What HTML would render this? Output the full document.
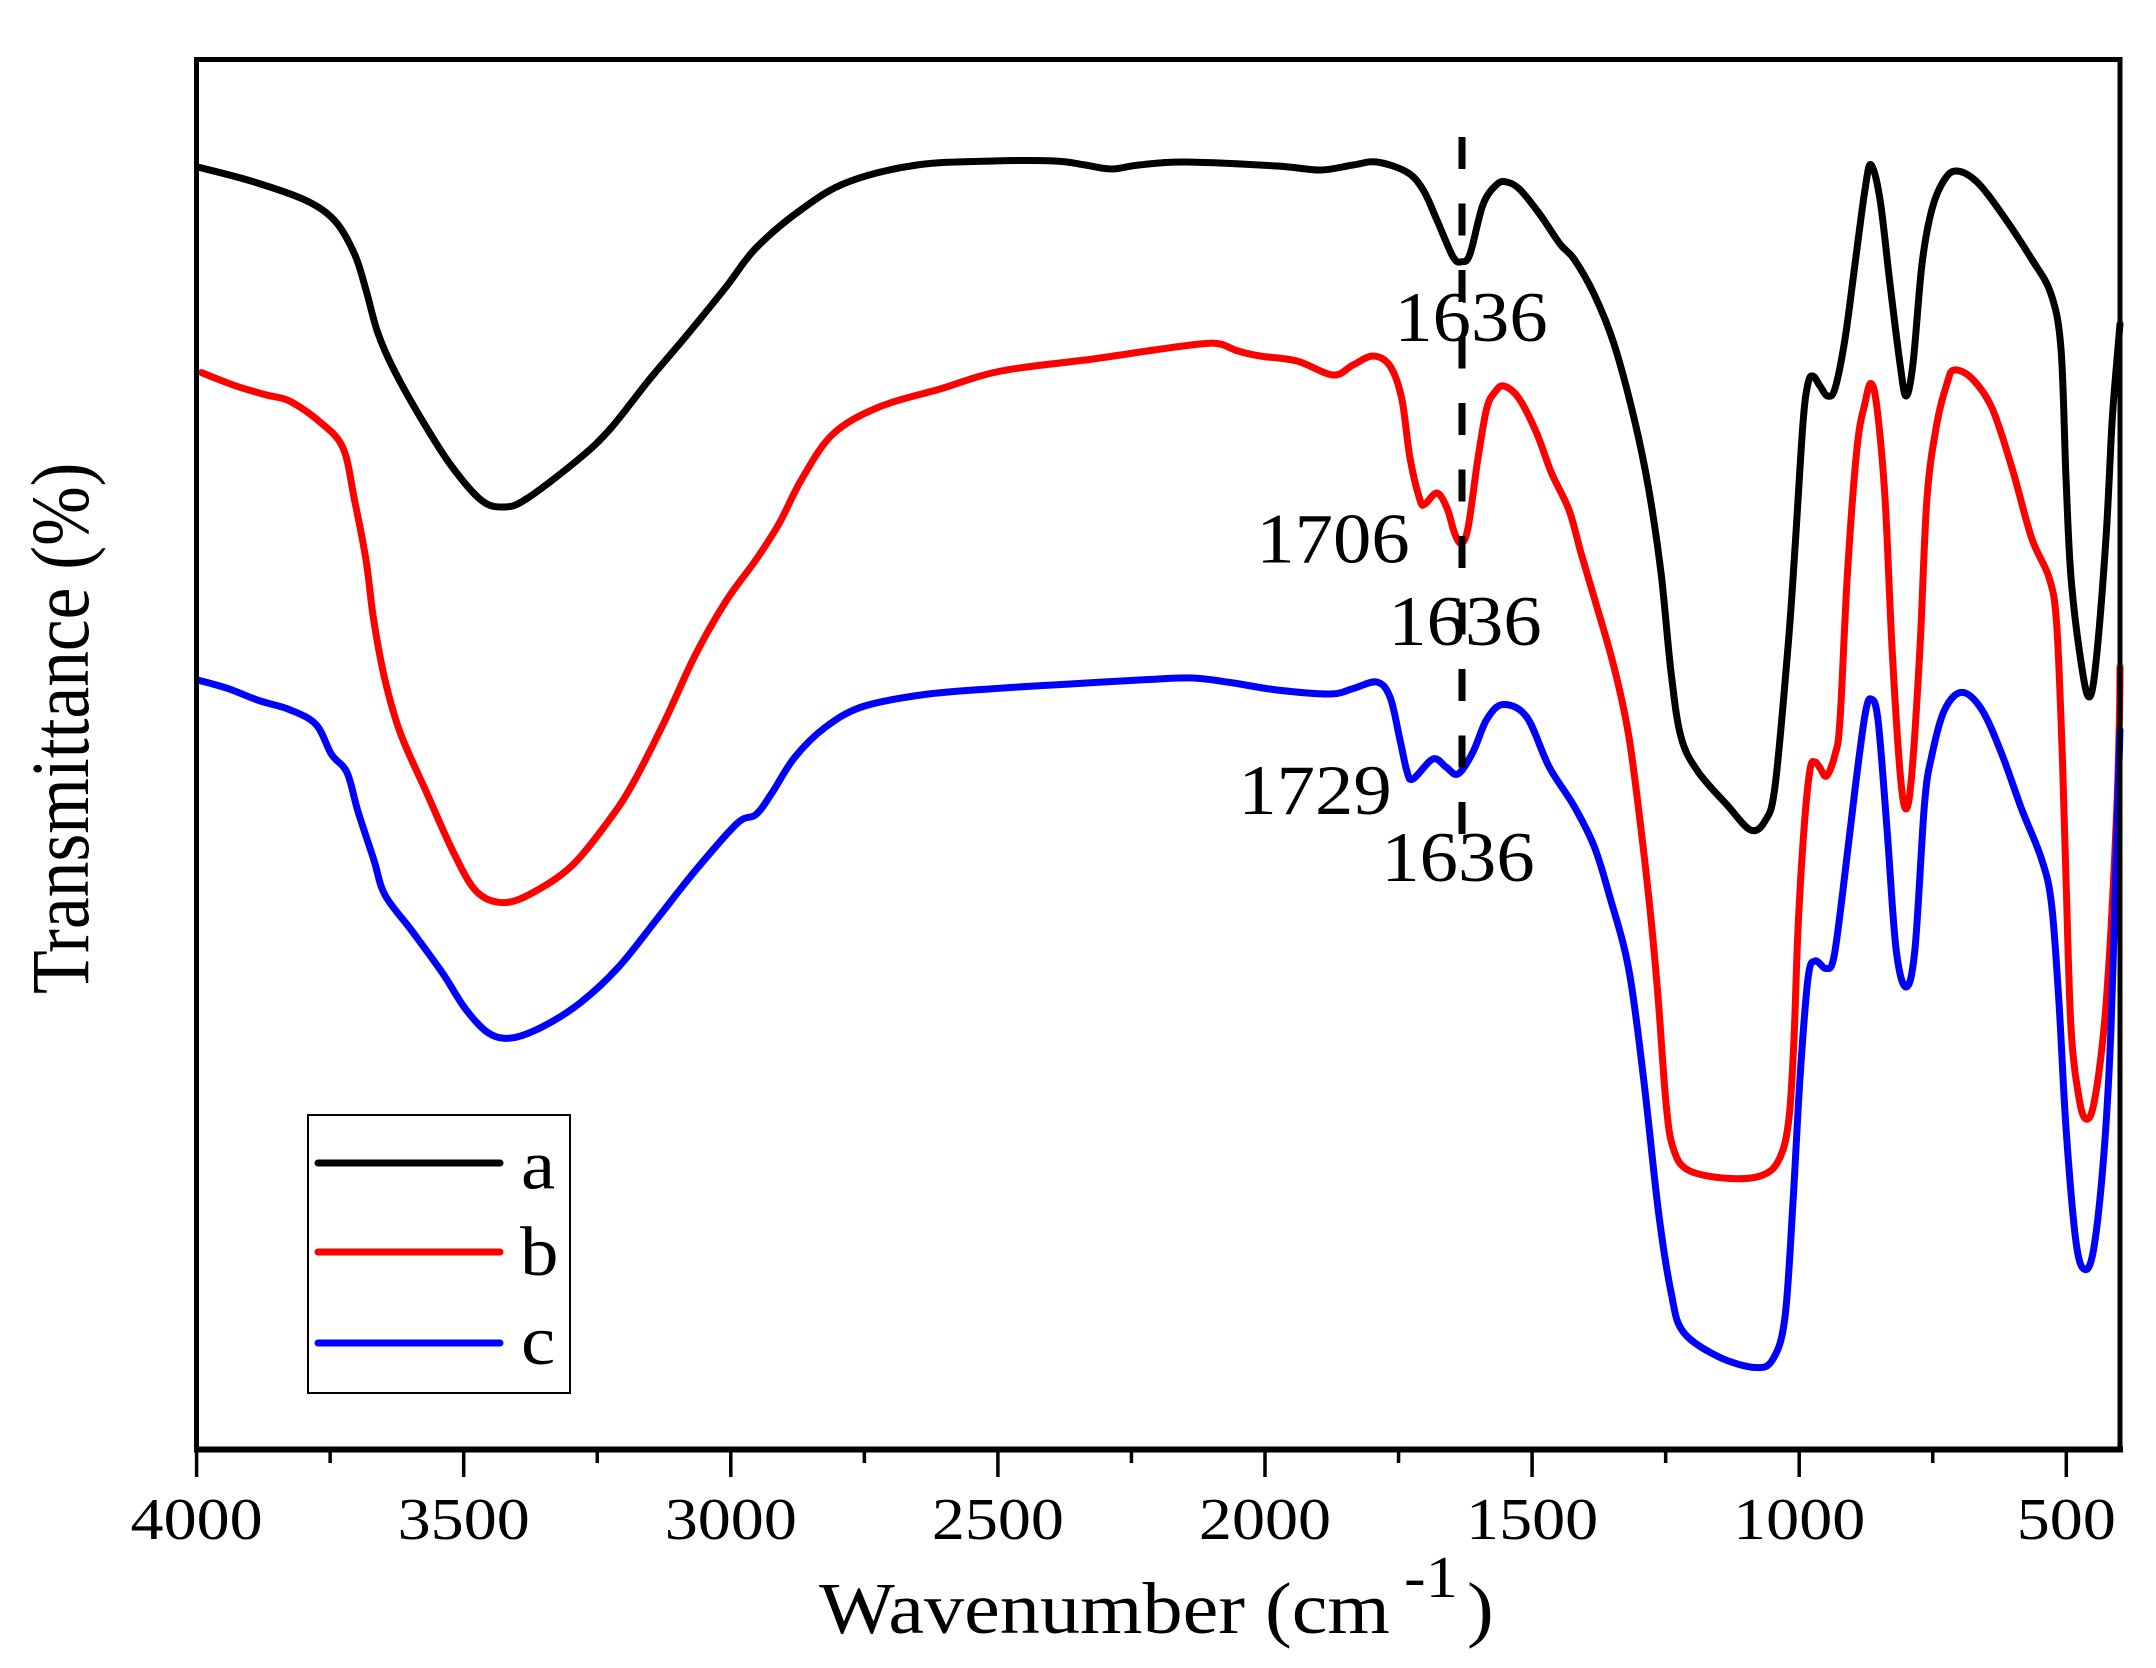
<!DOCTYPE html>
<html>
<head>
<meta charset="utf-8">
<style>
html,body{margin:0;padding:0;background:#fff;}
svg{display:block;}
text{font-family:"Liberation Serif","Times New Roman",serif;fill:#000;}
</style>
</head>
<body>
<svg id="chart" width="2156" height="1668" viewBox="0 0 2156 1668" xmlns="http://www.w3.org/2000/svg">
<rect x="0" y="0" width="2156" height="1668" fill="#fff"/>

<!-- curves -->
<g id="curves" fill="none" stroke-width="7" stroke-linejoin="round" stroke-linecap="round">
<polyline stroke="#000" points="197.7,167 251,181 305,200 335,221 354.5,254 366,290 377.5,332 393,368 419.6,416 450,464 481,500 504,507 527,498.5 580,458 611,428 649,380 687,335 726,287 756,248 802,209 848,182 917,165 993.6,161 1055,161 1085,165 1112,169 1139,165 1185,162 1277,166 1320,170 1353,165 1376.7,162 1406.7,172 1423,189.6 1436.7,219.5 1453,256.8 1461.7,261.7 1470,254 1483,204.5 1496.7,184.6 1506.7,182 1520,189.6 1540,214.5 1560,244 1574,259 1594,294 1614,344 1634,418 1648.5,488 1661,572.6 1671,672 1681,737 1698,771.6 1728,806 1750.5,830 1765,821 1775,786.5 1788,647 1795,548 1803,423 1808,383.5 1813,376 1820,386 1827.6,396 1835,388.5 1845,339 1855,264 1865,189.5 1871,164.7 1880,199.5 1890,284 1900,363.6 1906,396 1913,363.6 1922,264 1932,209 1944.5,179.6 1957,171 1977,182 2002,214 2031.6,259 2051,294 2061,349 2066,478 2071,577.5 2081,662 2089,697 2096,662 2106,538 2112,423 2117,359 2120,324"/>
<polyline stroke="#ff0000" points="201.5,372.6 236,386 266.5,395 289.5,401 320,422 343,448 354.5,500 366,560 373.7,620 385,680 400.5,733.5 427,793.5 454,853.5 477,892 504,902.6 534,892 572.6,865 611,817.5 634,781.5 664.5,721.5 695,655.6 725.7,601.6 756,559.7 779,523.7 802,478.7 833,434 879,407 940,389 1001,371 1093,359 1154,350 1200,344 1220,344 1238,351 1260,356 1297,361 1333,375 1353,365 1373,356 1390,366 1401.7,398.5 1410,458 1420,500 1425,504 1437,493 1447,508 1454.5,533 1461,543 1468,528 1478,458 1486.7,408.5 1495,392 1504,386 1519,398.5 1536.6,433 1551.5,473 1569,510 1581,553 1594,597 1614,667 1628.6,735 1641,829 1651,919 1658.5,1003 1666,1103 1673,1147.6 1688,1170 1728,1178.4 1763,1175 1780,1157.5 1789,1118 1794,1038 1798,929 1804,829 1810,769.5 1815,762 1820,768 1826.6,776 1835,754.6 1840,720 1847.5,572.6 1857,448 1865,403 1871,383.5 1877,408 1885,498 1892,647 1900,771.5 1906,809 1912,771.5 1920,647 1927,498 1937,423 1947,383.5 1954,370 1972,378.6 1992,408 2012,468 2031.6,538 2049,577.5 2056.5,622 2062,747 2066,879 2071,1028 2079,1098 2086,1119 2094,1103 2104,1028 2111,929 2117,804 2119.6,710 2120,667"/>
<polyline stroke="#0000ff" points="197.7,680 228,688.6 259,700.6 289.5,709.6 316,724.5 331.6,754.5 347,772.5 358,811.5 373.7,859.4 385,895 412,931 442.5,973 465.5,1009 488.5,1033 511.4,1038 542,1027 580,1003 618.6,967 657,919 695,871 737,823.5 756,814.5 771.6,793.5 794.6,757.5 825,727.5 863,706.5 924.7,694.5 993.6,688.6 1070,684 1146.6,679.6 1192.5,678 1231,682.6 1277,690 1330,694 1353,688.6 1376.7,682 1390,697 1400,740 1407,771.5 1413,779 1433,759 1446,767 1458,774 1473,752 1486.7,719.5 1503,704.5 1526.7,717 1549,766.6 1574,806 1594,846 1609,894 1628.6,968.5 1643.5,1078 1658.5,1212 1671,1292 1683,1331.6 1718,1356.5 1755.5,1367.5 1773,1359 1785,1317 1793,1202 1800,1078 1808,978.5 1815,961 1826,968.5 1833.6,958.6 1842.5,894 1855,789.4 1865,715 1871,699 1878,720 1887,829 1896,948.6 1906,987 1915,948.6 1924.5,804 1932,754.6 1944.5,710 1962,692.4 1982,710 2002,754.6 2021.6,809 2041.5,859 2051.5,904 2059,1003 2066,1128 2076,1242 2085,1269.5 2094,1247 2104,1152.6 2111,1028 2117,829 2120,730"/>
</g>

<!-- dashed line -->
<line x1="1462" y1="137" x2="1462" y2="834" stroke="#000" stroke-width="7" stroke-dasharray="32 34.5"/>

<!-- frame -->
<rect x="196.5" y="59.5" width="1923.5" height="1390" fill="none" stroke="#000" stroke-width="5"/>
<line x1="194" y1="1449.5" x2="2123" y2="1449.5" stroke="#000" stroke-width="6"/>

<!-- ticks -->
<g stroke="#000" stroke-width="3.5">
<line x1="196.6" y1="1449" x2="196.6" y2="1477"/>
<line x1="330.15" y1="1449" x2="330.15" y2="1463"/>
<line x1="463.7" y1="1449" x2="463.7" y2="1477"/>
<line x1="597.25" y1="1449" x2="597.25" y2="1463"/>
<line x1="730.8" y1="1449" x2="730.8" y2="1477"/>
<line x1="864.35" y1="1449" x2="864.35" y2="1463"/>
<line x1="997.9" y1="1449" x2="997.9" y2="1477"/>
<line x1="1131.45" y1="1449" x2="1131.45" y2="1463"/>
<line x1="1265" y1="1449" x2="1265" y2="1477"/>
<line x1="1398.55" y1="1449" x2="1398.55" y2="1463"/>
<line x1="1532.1" y1="1449" x2="1532.1" y2="1477"/>
<line x1="1665.65" y1="1449" x2="1665.65" y2="1463"/>
<line x1="1799.2" y1="1449" x2="1799.2" y2="1477"/>
<line x1="1932.75" y1="1449" x2="1932.75" y2="1463"/>
<line x1="2066.3" y1="1449" x2="2066.3" y2="1477"/>
</g>

<!-- tick labels -->
<g font-size="59" text-anchor="middle">
<text transform="translate(196.6,1539) scale(1.12,1)">4000</text>
<text transform="translate(463.7,1539) scale(1.12,1)">3500</text>
<text transform="translate(730.8,1539) scale(1.12,1)">3000</text>
<text transform="translate(997.9,1539) scale(1.12,1)">2500</text>
<text transform="translate(1265,1539) scale(1.12,1)">2000</text>
<text transform="translate(1532.1,1539) scale(1.12,1)">1500</text>
<text transform="translate(1799.2,1539) scale(1.12,1)">1000</text>
<text transform="translate(2066.3,1539) scale(1.12,1)">500</text>
</g>

<!-- axis titles -->
<text font-size="73" transform="translate(819,1633) scale(1.1,1)">Wavenumber (cm</text>
<text font-size="59" transform="translate(1404,1597) scale(1.1,1)">-1</text>
<text font-size="73" transform="translate(1467,1633) scale(1.1,1)">)</text>
<text font-size="71.5" transform="translate(88,994) scale(1.16,1) rotate(-90)">Transmittance (%)</text>

<!-- annotations -->
<g font-size="71" text-anchor="middle">
<text transform="translate(1471,341) scale(1.08,1)">1636</text>
<text transform="translate(1333,562.7) scale(1.08,1)">1706</text>
<text transform="translate(1465,645) scale(1.08,1)">1636</text>
<text transform="translate(1315,814) scale(1.08,1)">1729</text>
<text transform="translate(1458,881) scale(1.08,1)">1636</text>
</g>

<!-- legend -->
<rect x="308" y="1115" width="262" height="278" fill="#fff" stroke="#000" stroke-width="2"/>
<g stroke-width="7" stroke-linecap="round">
<line x1="318" y1="1163" x2="500" y2="1163" stroke="#000"/>
<line x1="318" y1="1252" x2="500" y2="1252" stroke="#ff0000"/>
<line x1="318" y1="1343" x2="500" y2="1343" stroke="#0000ff"/>
</g>
<g font-size="70">
<text transform="translate(521,1188.5) scale(1.1,1)">a</text>
<text transform="translate(520,1275) scale(1.1,1)">b</text>
<text transform="translate(521,1364) scale(1.1,1)">c</text>
</g>
</svg>
<script>
(function(){
  try{
    var NS="http://www.w3.org/2000/svg";
    var g=document.getElementById("curves");
    var pls=g.getElementsByTagName("polyline");
    var arr=[];for(var i=0;i<pls.length;i++)arr.push(pls[i]);
    arr.forEach(function(pl){
      var raw=pl.getAttribute("points").trim().split(/\s+/);
      var p=raw.map(function(s){var a=s.split(",");return [parseFloat(a[0]),parseFloat(a[1])];});
      if(p.length<3)return;
      var d="M"+p[0][0]+","+p[0][1];
      var t=0.5;
      for(var k=0;k<p.length-1;k++){
        var p0=p[k>0?k-1:k],p1=p[k],p2=p[k+1],p3=p[k+2<p.length?k+2:k+1];
        var c1x=p1[0]+(p2[0]-p0[0])*t/3,c1y=p1[1]+(p2[1]-p0[1])*t/3;
        var c2x=p2[0]-(p3[0]-p1[0])*t/3,c2y=p2[1]-(p3[1]-p1[1])*t/3;
        // keep x monotonic to avoid loops
        if(c1x<p1[0])c1x=p1[0]; if(c1x>p2[0])c1x=p2[0];
        if(c2x<p1[0])c2x=p1[0]; if(c2x>p2[0])c2x=p2[0];
        d+=" C"+c1x.toFixed(2)+","+c1y.toFixed(2)+" "+c2x.toFixed(2)+","+c2y.toFixed(2)+" "+p2[0]+","+p2[1];
      }
      var path=document.createElementNS(NS,"path");
      path.setAttribute("d",d);
      path.setAttribute("stroke",pl.getAttribute("stroke"));
      g.insertBefore(path,pl);
      g.removeChild(pl);
    });
  }catch(e){}
})();
</script>
</body>
</html>
